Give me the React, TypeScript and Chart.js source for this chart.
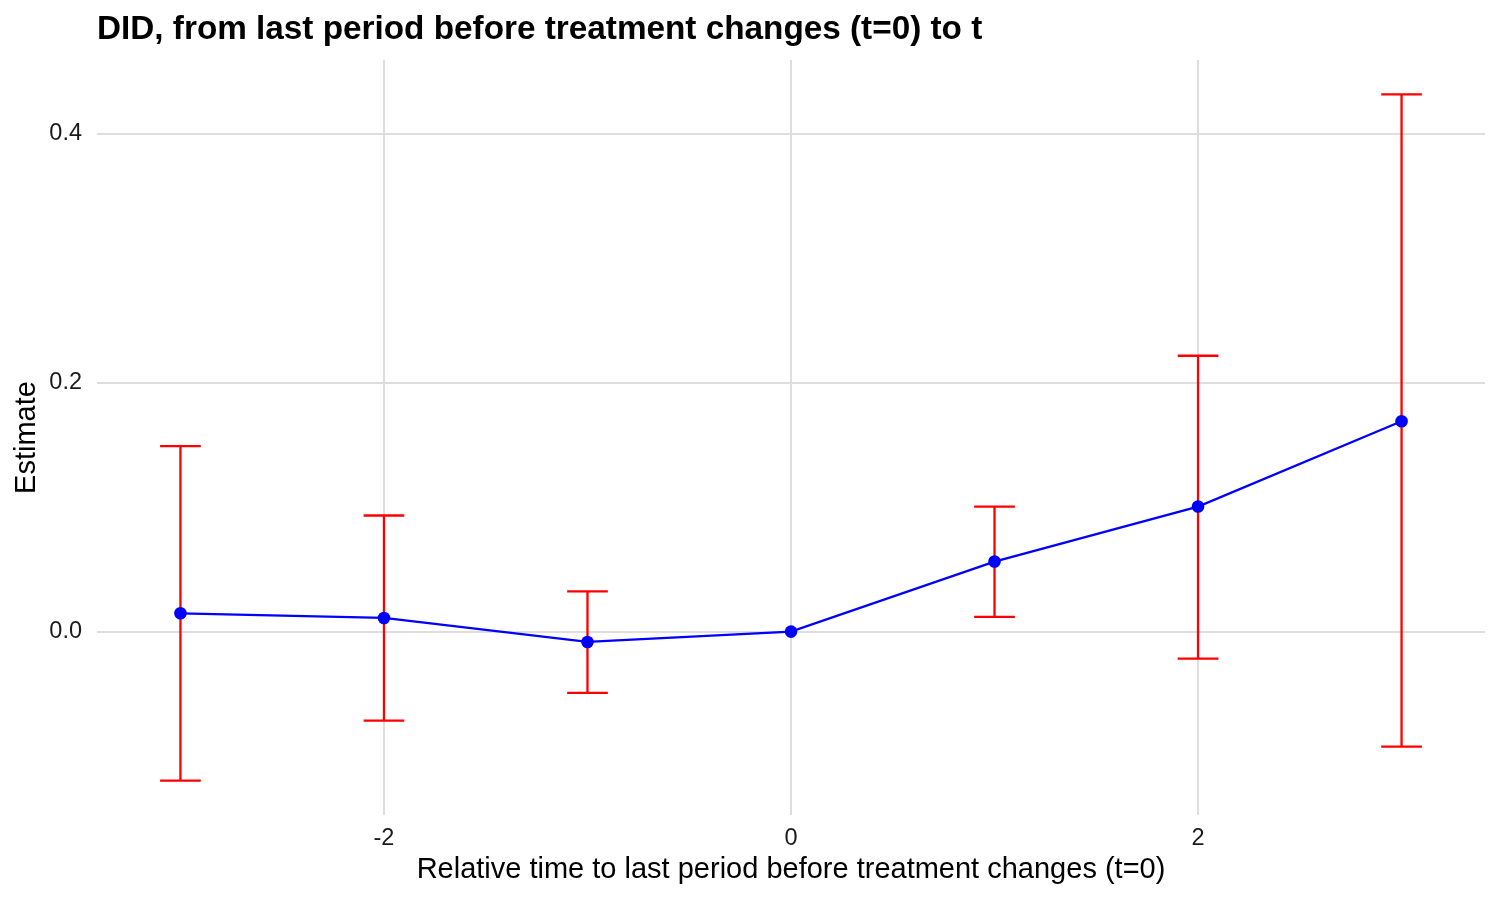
import React, { useEffect, useRef } from "react";
import { Chart, registerables } from "chart.js";

Chart.register(...registerables);

// ---- data ----
const relTime = [-3, -2, -1, 0, 1, 2, 3];
const estimate = [0.0147, 0.011, -0.0083, 0, 0.0563, 0.1005, 0.1691];
const lowerCI: (number | null)[] = [-0.1198, -0.0716, -0.0493, null, 0.0118, -0.0217, -0.0925];
const upperCI: (number | null)[] = [0.149, 0.0933, 0.0324, null, 0.1005, 0.2217, 0.4318];
const xTicks = [-2, 0, 2];
const xTickLabels = ["-2", "0", "2"];
const yTicks = [0, 0.2, 0.4];
const yTickLabels = ["0.0", "0.2", "0.4"];
const errorBarWidth = 0.2;

const titleText = "DID, from last period before treatment changes (t=0) to t";
const xTitle = "Relative time to last period before treatment changes (t=0)";
const yTitle = "Estimate";

const FONT = '"Liberation Sans", Arial, Helvetica, sans-serif';

// ggplot-like expanded limits
const xLo = Math.min(...relTime) - errorBarWidth / 2;
const xHi = Math.max(...relTime) + errorBarWidth / 2;
const allY = [...estimate, ...(lowerCI.filter((v) => v !== null) as number[]), ...(upperCI.filter((v) => v !== null) as number[])];
const yLo = Math.min(...allY);
const yHi = Math.max(...allY);
const xPad = (xHi - xLo) * 0.05;
const yPad = (yHi - yLo) * 0.05;

const errorBarPlugin = {
  id: "errorBars",
  beforeDatasetsDraw(chart: any) {
    const { ctx, scales } = chart;
    const xs = scales.x;
    const ys = scales.y;
    ctx.save();
    ctx.strokeStyle = "#ff0000";
    ctx.lineWidth = 2.3;
    ctx.lineCap = "butt";
    relTime.forEach((t, i) => {
      const lo = lowerCI[i];
      const hi = upperCI[i];
      if (lo === null || hi === null) return;
      const px = xs.getPixelForValue(t);
      const pl = xs.getPixelForValue(t - errorBarWidth / 2);
      const pr = xs.getPixelForValue(t + errorBarWidth / 2);
      const pyLo = ys.getPixelForValue(lo);
      const pyHi = ys.getPixelForValue(hi);
      ctx.beginPath();
      ctx.moveTo(px, pyLo);
      ctx.lineTo(px, pyHi);
      ctx.moveTo(pl, pyLo);
      ctx.lineTo(pr, pyLo);
      ctx.moveTo(pl, pyHi);
      ctx.lineTo(pr, pyHi);
      ctx.stroke();
    });
    ctx.restore();
  },
};

const titlePlugin = {
  id: "ggTitle",
  afterDraw(chart: any) {
    const { ctx, chartArea } = chart;
    ctx.save();
    ctx.fillStyle = "#000000";
    ctx.font = `bold 33.3px ${FONT}`;
    ctx.textAlign = "left";
    ctx.textBaseline = "alphabetic";
    ctx.fillText(titleText, chartArea.left, 39);
    ctx.restore();
  },
};

export default function App() {
  const canvasRef = useRef<HTMLCanvasElement | null>(null);

  useEffect(() => {
    document.body.style.margin = "0";
    const canvas = canvasRef.current;
    if (!canvas) return;
    const chart = new Chart(canvas, {
      type: "line",
      data: {
        datasets: [
          {
            label: "Estimate",
            data: relTime.map((t, i) => ({ x: t, y: estimate[i] })),
            borderColor: "#0000ff",
            backgroundColor: "#0000ff",
            borderWidth: 2.3,
            pointRadius: 6.3,
            pointBorderWidth: 0,
            pointBackgroundColor: "#0000ff",
            tension: 0,
            fill: false,
          },
        ],
      },
      options: {
        animation: false,
        responsive: false,
        maintainAspectRatio: false,
        layout: { padding: { top: 60, right: 15, bottom: 0, left: 0 } },
        plugins: {
          legend: { display: false },
          tooltip: { enabled: false },
          title: { display: false },
        },
        scales: {
          x: {
            type: "linear",
            min: xLo - xPad,
            max: xHi + xPad,
            border: { display: false },
            grid: { color: "#dedede", lineWidth: 2, drawTicks: false },
            afterBuildTicks: (scale: any) => {
              scale.ticks = xTicks.map((v) => ({ value: v }));
            },
            afterFit: (scale: any) => {
              scale.height = 85;
            },
            ticks: {
              padding: 9,
              color: "#1a1a1a",
              font: { family: FONT, size: 23.5 },
              callback: (_v: any, i: number) => xTickLabels[i],
            },
            title: {
              display: true,
              text: xTitle,
              color: "#000000",
              font: { family: FONT, size: 29, lineHeight: 1.2 },
              padding: { top: 0, bottom: 13 },
            },
          },
          y: {
            type: "linear",
            min: yLo - yPad,
            max: yHi + yPad,
            border: { display: false },
            grid: { color: "#dedede", lineWidth: 2, drawTicks: false },
            afterBuildTicks: (scale: any) => {
              scale.ticks = yTicks.map((v) => ({ value: v }));
            },
            afterFit: (scale: any) => {
              scale.width = 97;
            },
            ticks: {
              padding: 15,
              color: "#1a1a1a",
              font: { family: FONT, size: 23.5 },
              callback: (_v: any, i: number) => yTickLabels[i],
            },
            title: {
              display: true,
              text: yTitle,
              color: "#000000",
              font: { family: FONT, size: 29, lineHeight: 1.2 },
              padding: { top: 10, bottom: 0 },
            },
          },
        },
      },
      plugins: [errorBarPlugin, titlePlugin],
    } as any);
    return () => chart.destroy();
  }, []);

  return (
    <div style={{ width: 1500, height: 900, background: "#ffffff" }}>
      <canvas ref={canvasRef} width={1500} height={900} style={{ display: "block" }} />
    </div>
  );
}
